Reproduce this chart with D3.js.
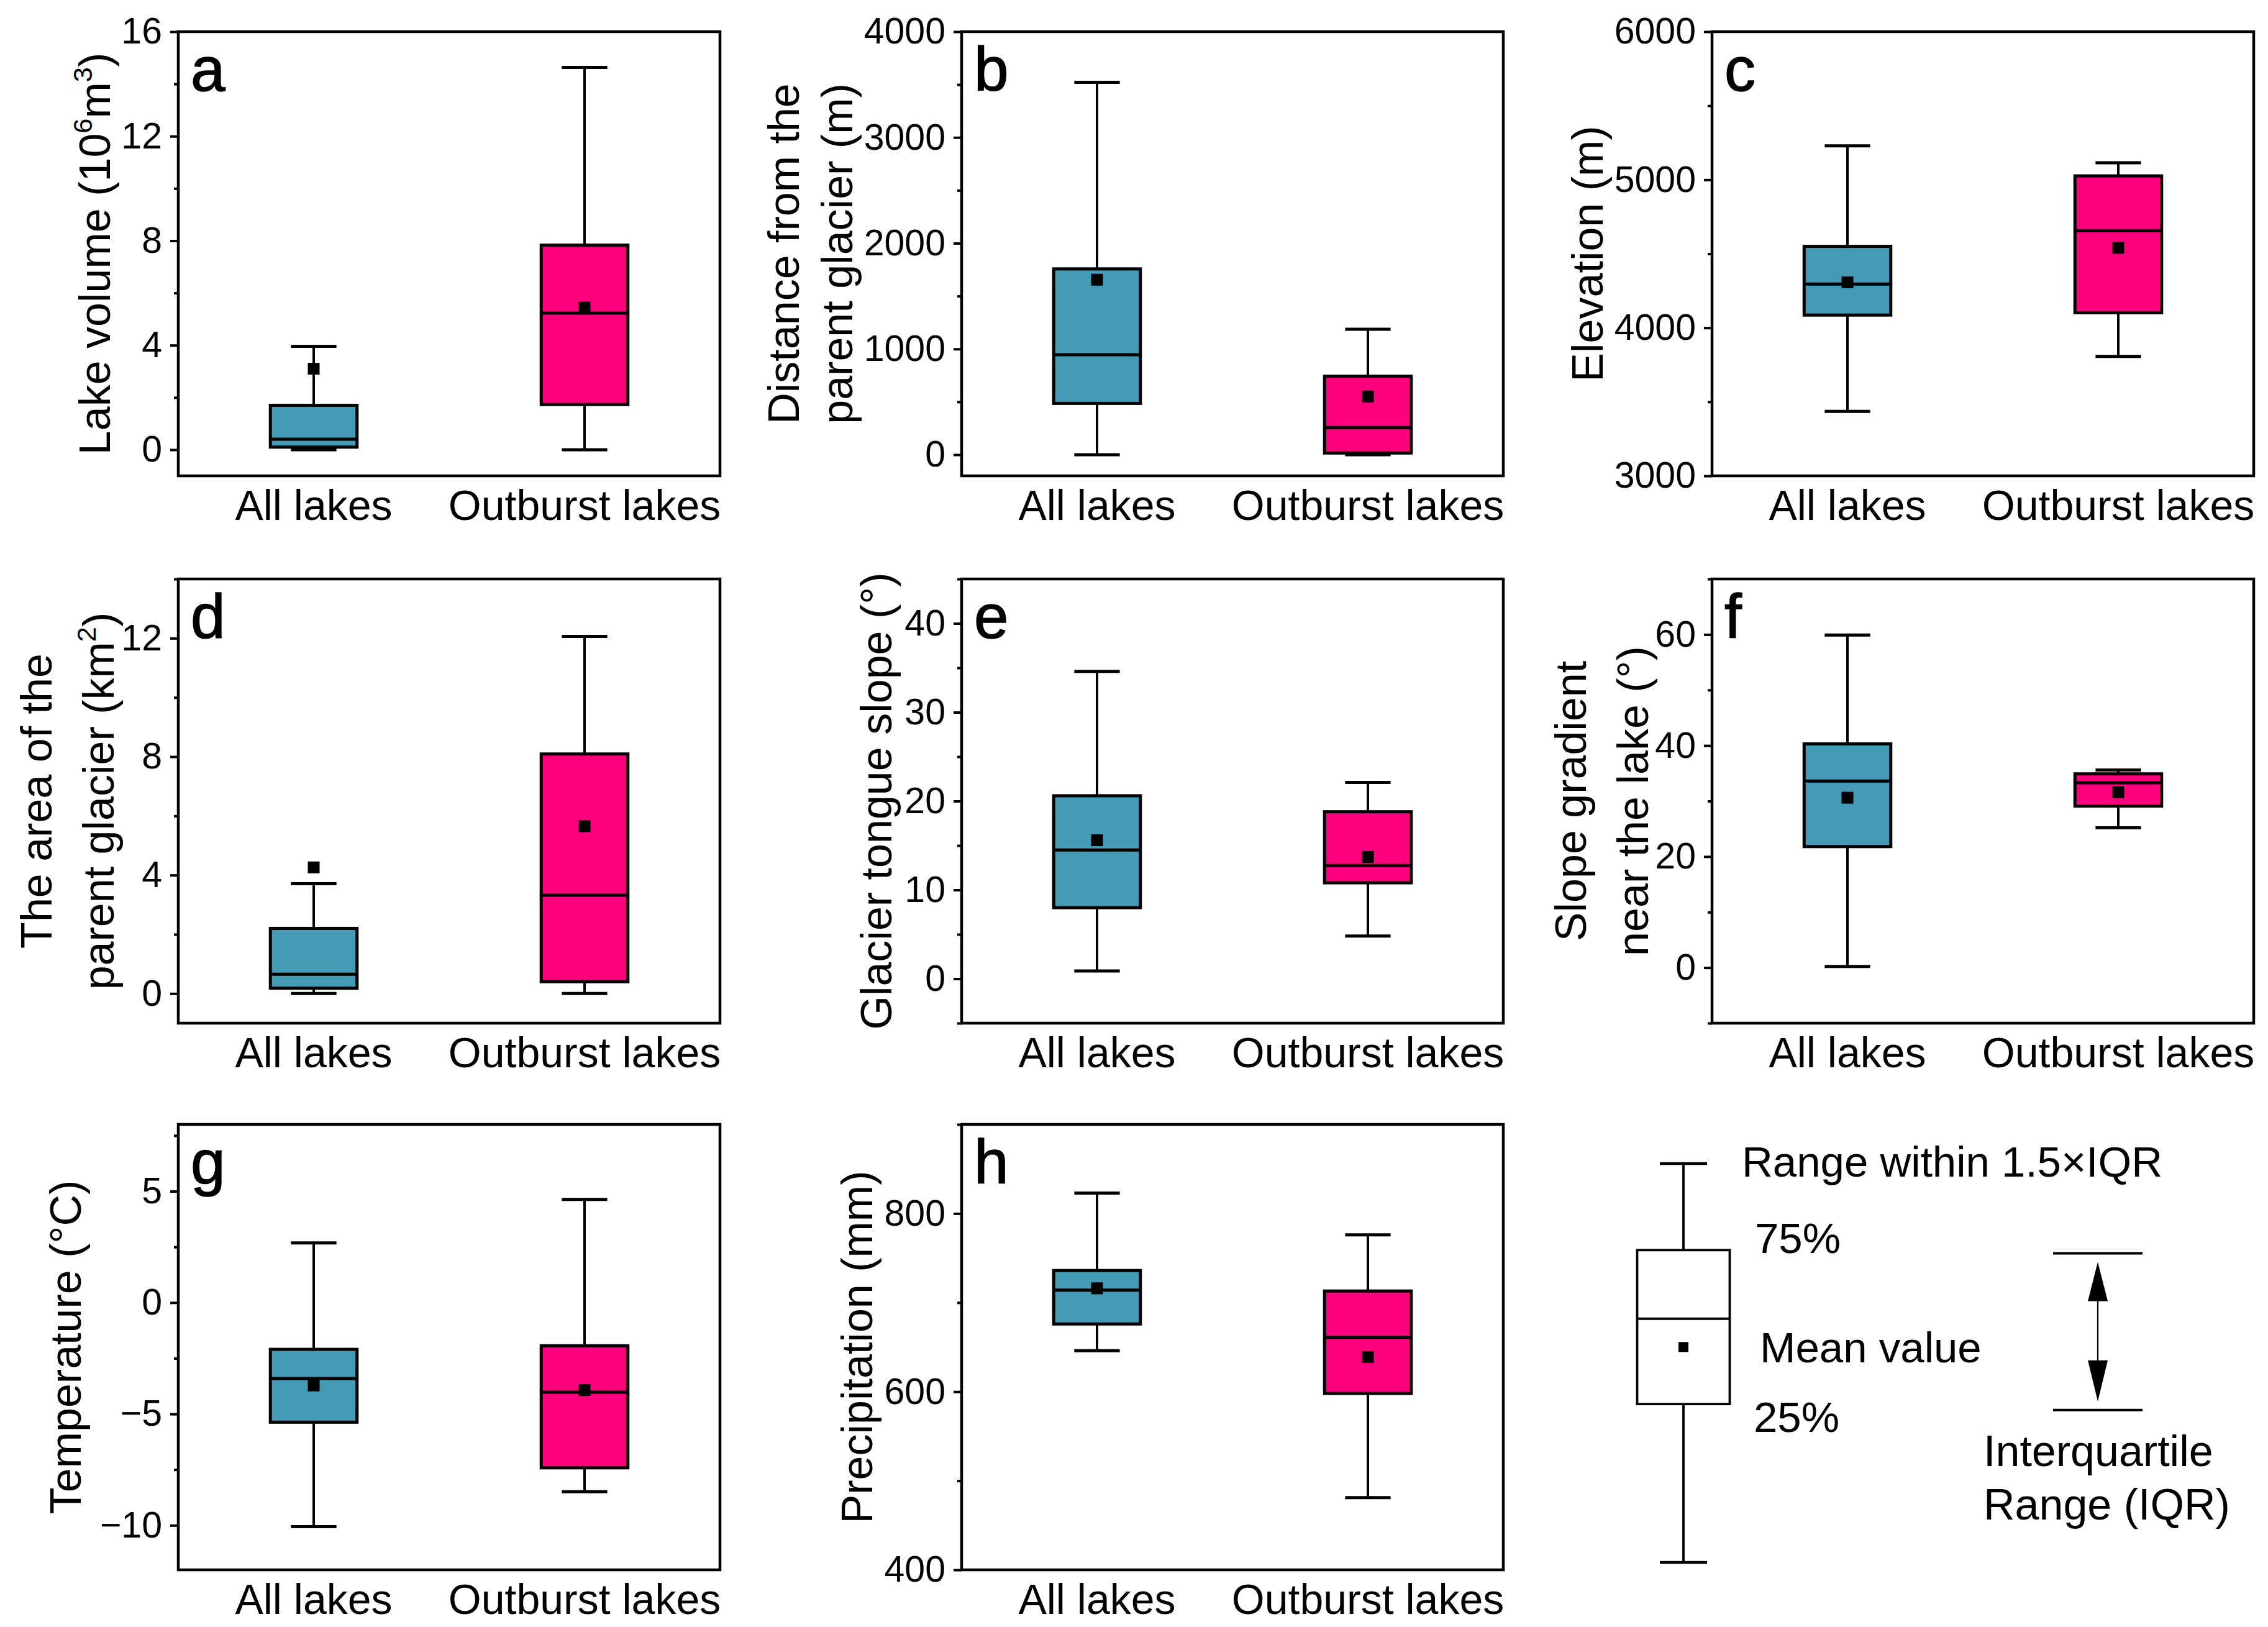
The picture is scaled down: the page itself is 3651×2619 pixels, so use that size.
<!DOCTYPE html>
<html><head><meta charset="utf-8">
<script src="https://cdn.jsdelivr.net/npm/d3@7"></script>
<style>body{margin:0;background:#fff} svg{display:block}</style>
</head><body><div id="chart"></div>
<script>
// ---------------- DATA ----------------
const categories = ["All lakes", "Outburst lakes"];
// each stats row: [lower whisker, Q1, median, Q3, upper whisker, mean]
const volumeStats        = [[0, 0.1, 0.4, 1.7, 3.96, 3.1], [0, 1.73, 5.23, 7.83, 14.63, 5.44]];
const distanceStats      = [[0, 485, 946, 1757, 3521, 1655], [0, 16, 257, 742, 1187, 551]];
const elevationStats     = [[3435, 4086, 4295, 4550, 5229, 4307], [3807, 4102, 4656, 5026, 5115, 4540]];
const glacierAreaStats   = [[0, 0.18, 0.65, 2.2, 3.71, 4.26], [0, 0.4, 3.32, 8.09, 12.06, 5.65]];
const tongueSlopeStats   = [[0.87, 8.0, 14.5, 20.6, 34.6, 15.6], [4.8, 10.8, 12.74, 18.8, 22.1, 13.7]];
const lakeSlopeStats     = [[0.2, 21.8, 33.6, 40.3, 59.9, 30.6], [25.2, 29.1, 33.3, 34.9, 35.6, 31.6]];
const temperatureStats   = [[-10.06, -5.37, -3.41, -2.1, 2.68, -3.72], [-8.49, -7.42, -4.02, -1.94, 4.63, -3.93]];
const precipitationStats = [[646, 676, 714, 736, 823, 716], [481, 598, 661, 713, 776, 639]];

const ticksA = [0, 4, 8, 12, 16],            minorA = [2, 6, 10, 14],             domainA = [-1, 16];
const ticksB = [0, 1000, 2000, 3000, 4000],  minorB = [500, 1500, 2500, 3500],    domainB = [-200, 4000];
const ticksC = [3000, 4000, 5000, 6000],     minorC = [3500, 4500, 5500],         domainC = [3000, 6000];
const ticksD = [0, 4, 8, 12],                minorD = [2, 6, 10, 14],             domainD = [-1, 14];
const ticksE = [0, 10, 20, 30, 40],          minorE = [-5, 5, 15, 25, 35, 45],    domainE = [-5, 45];
const ticksF = [0, 20, 40, 60],              minorF = [-10, 10, 30, 50, 70],      domainF = [-10, 70];
const ticksG = [-10, -5, 0, 5],              minorG = [-7.5, -2.5, 2.5, 7.5],     domainG = [-12, 8];
const ticksH = [400, 600, 800],              minorH = [500, 700, 900],            domainH = [400, 900];

const panelLetters = ["a", "b", "c", "d", "e", "f", "g", "h"];
const labelA = ["Lake volume (10^6m^3)"];
const labelB = ["Distance from the", "parent glacier (m)"];
const labelC = ["Elevation (m)"];
const labelD = ["The area of the", "parent glacier (km^2)"];
const labelE = ["Glacier tongue slope (°)"];
const labelF = ["Slope gradient", "near the lake (°)"];
const labelG = ["Temperature (°C)"];
const labelH = ["Precipitation (mm)"];

// legend schematic (relative positions 0..1): [low, Q1, median, Q3, high, mean]
const legendStats = [0, 0.397, 0.611, 0.783, 1, 0.540];
const legendIqr = [0.382, 0.775];
const legendTexts = ["Range within 1.5×IQR", "75%", "Mean value", "25%"];
const iqrTexts = ["Interquartile", "Range (IQR)"];

// ---------------- LAYOUT ----------------
const W = 3651, H = 2619;
const FONT = "'Liberation Sans', Arial, Helvetica, sans-serif";
const colX = [287, 1548, 2756];
const rowY = [51, 932, 1810];
const rowH = [715, 715, 717];
const panelW = 872;
const colors = ["#459bb5", "#ff007f"];

const panels = [
  {stats: volumeStats, ticks: ticksA, minor: minorA, domain: domainA, label: labelA, col: 0, row: 0, lab: [-110]},
  {stats: distanceStats, ticks: ticksB, minor: minorB, domain: domainB, label: labelB, col: 1, row: 0, lab: [-262, -176]},
  {stats: elevationStats, ticks: ticksC, minor: minorC, domain: domainC, label: labelC, col: 2, row: 0, lab: [-176]},
  {stats: glacierAreaStats, ticks: ticksD, minor: minorD, domain: domainD, label: labelD, col: 0, row: 1, lab: [-204, -104]},
  {stats: tongueSlopeStats, ticks: ticksE, minor: minorE, domain: domainE, label: labelE, col: 1, row: 1, lab: [-113]},
  {stats: lakeSlopeStats, ticks: ticksF, minor: minorF, domain: domainF, label: labelF, col: 2, row: 1, lab: [-203, -103]},
  {stats: temperatureStats, ticks: ticksG, minor: minorG, domain: domainG, label: labelG, col: 0, row: 2, lab: [-157]},
  {stats: precipitationStats, ticks: ticksH, minor: minorH, domain: domainH, label: labelH, col: 1, row: 2, lab: [-144]}
];

const svg = d3.select("#chart").append("svg")
  .attr("width", W).attr("height", H).attr("viewBox", `0 0 ${W} ${H}`)
  .style("font-family", FONT);
svg.append("rect").attr("width", W).attr("height", H).attr("fill", "#fff");

function addRichText(sel, str, size) {
  const parts = str.split(/\^(\d)/);
  parts.forEach((t, i) => {
    if (t === "") return;
    if (i % 2 === 1) {
      sel.append("tspan").attr("font-size", size * 0.62).attr("dy", -size * 0.42).text(t);
    } else {
      const ts = sel.append("tspan").text(t);
      if (i > 0) ts.attr("dy", size * 0.42);
    }
  });
}

const fmt = d3.format("d");

panels.forEach((p, pi) => {
  const w = panelW, h = rowH[p.row];
  const g = svg.append("g").attr("transform", `translate(${colX[p.col]},${rowY[p.row]})`);
  const y = d3.scaleLinear().domain(p.domain).range([h, 0]);
  const x = d3.scalePoint().domain(categories).range([0, w]).padding(0.5);

  // minor ticks
  const gm = g.append("g").call(d3.axisLeft(y).tickValues(p.minor).tickSize(7).tickFormat(""));
  gm.select(".domain").remove();
  gm.selectAll(".tick line").attr("stroke", "#000").attr("stroke-width", 4);
  // major ticks
  const ga = g.append("g").call(d3.axisLeft(y).tickValues(p.ticks).tickSize(13).tickPadding(13).tickFormat(fmt));
  ga.select(".domain").remove();
  ga.selectAll(".tick line").attr("stroke", "#000").attr("stroke-width", 4);
  ga.selectAll(".tick text").attr("font-size", 59).attr("font-family", FONT).attr("fill", "#000");

  const bw = w * 0.16, cw = w * 0.084;
  categories.forEach((c, ci) => {
    const [lo, q1, med, q3, hi, mean] = p.stats[ci];
    const cx = x(c);
    const bg = g.append("g");
    bg.append("line").attr("x1", cx).attr("x2", cx).attr("y1", y(lo)).attr("y2", y(q1))
      .attr("stroke", "#000").attr("stroke-width", 4);
    bg.append("line").attr("x1", cx).attr("x2", cx).attr("y1", y(q3)).attr("y2", y(hi))
      .attr("stroke", "#000").attr("stroke-width", 4);
    [lo, hi].forEach(v => {
      bg.append("line").attr("x1", cx - cw / 2).attr("x2", cx + cw / 2).attr("y1", y(v)).attr("y2", y(v))
        .attr("stroke", "#000").attr("stroke-width", 5);
    });
    bg.append("rect").attr("x", cx - bw / 2).attr("y", y(q3)).attr("width", bw).attr("height", y(q1) - y(q3))
      .attr("fill", colors[ci]).attr("stroke", "#000").attr("stroke-width", 5);
    bg.append("line").attr("x1", cx - bw / 2).attr("x2", cx + bw / 2).attr("y1", y(med)).attr("y2", y(med))
      .attr("stroke", "#000").attr("stroke-width", 5);
    bg.append("rect").attr("x", cx - 9.5).attr("y", y(mean) - 9.5).attr("width", 19).attr("height", 19).attr("fill", "#000");

    g.append("text").attr("x", cx).attr("y", h + 71).attr("text-anchor", "middle")
      .attr("font-size", 68).attr("fill", "#000").text(c);
  });

  g.append("rect").attr("x", 0).attr("y", 0).attr("width", w).attr("height", h)
    .attr("fill", "none").attr("stroke", "#000").attr("stroke-width", 4.5);

  // y label
  p.label.forEach((line, li) => {
    const t = g.append("text").attr("transform", `translate(${p.lab[li]},${h / 2}) rotate(-90)`)
      .attr("text-anchor", "middle").attr("font-size", 70).attr("fill", "#000");
    addRichText(t, line, 70);
  });

  // panel letter
  g.append("text").attr("x", 20).attr("y", 95).attr("font-size", 100).attr("fill", "#000")
    .attr("stroke", "#000").attr("stroke-width", 1.5)
    .text(panelLetters[pi]);
});

// ---------------- LEGEND ----------------
const lg = svg.append("g");
const ly = d3.scaleLinear().domain([0, 1]).range([2515, 1873]);
const lcx = 2710, lbw = 149, lcw = 76;
const [llo, lq1, lmed, lq3, lhi, lmean] = legendStats;
lg.append("line").attr("x1", lcx).attr("x2", lcx).attr("y1", ly(llo)).attr("y2", ly(lhi))
  .attr("stroke", "#000").attr("stroke-width", 3.8);
[llo, lhi].forEach(v => lg.append("line").attr("x1", lcx - lcw / 2).attr("x2", lcx + lcw / 2)
  .attr("y1", ly(v)).attr("y2", ly(v)).attr("stroke", "#000").attr("stroke-width", 4.5));
lg.append("rect").attr("x", lcx - lbw / 2).attr("y", ly(lq3)).attr("width", lbw).attr("height", ly(lq1) - ly(lq3))
  .attr("fill", "#fff").attr("stroke", "#000").attr("stroke-width", 3.8);
lg.append("line").attr("x1", lcx - lbw / 2).attr("x2", lcx + lbw / 2).attr("y1", ly(lmed)).attr("y2", ly(lmed))
  .attr("stroke", "#000").attr("stroke-width", 3.8);
lg.append("rect").attr("x", lcx - 8).attr("y", ly(lmean) - 8).attr("width", 16).attr("height", 16).attr("fill", "#000");

const LF = 69;
const legendTextPos = [[2804, 1894], [2825, 2017], [2833, 2193], [2823, 2305]];
legendTexts.forEach((t, i) => lg.append("text").attr("x", legendTextPos[i][0]).attr("y", legendTextPos[i][1])
  .attr("font-size", LF).attr("fill", "#000").text(t));

// IQR bracket
const ax = 3377, aw = 144;
legendIqr.forEach(v => lg.append("line").attr("x1", ax - aw / 2).attr("x2", ax + aw / 2)
  .attr("y1", ly(v)).attr("y2", ly(v)).attr("stroke", "#000").attr("stroke-width", 4));
const yTop = ly(legendIqr[1]) + 14, yBot = ly(legendIqr[0]) - 14;
lg.append("line").attr("x1", ax).attr("x2", ax).attr("y1", yTop + 20).attr("y2", yBot - 20)
  .attr("stroke", "#000").attr("stroke-width", 2.2);
lg.append("path").attr("d", `M${ax},${yTop} L${ax - 16},${yTop + 63} L${ax + 16},${yTop + 63} Z`).attr("fill", "#000");
lg.append("path").attr("d", `M${ax},${yBot} L${ax - 16},${yBot - 66} L${ax + 16},${yBot - 66} Z`).attr("fill", "#000");
iqrTexts.forEach((t, i) => lg.append("text").attr("x", 3193).attr("y", 2360 + i * 86)
  .attr("font-size", LF + 1).attr("fill", "#000").text(t));
</script>
</body></html>
